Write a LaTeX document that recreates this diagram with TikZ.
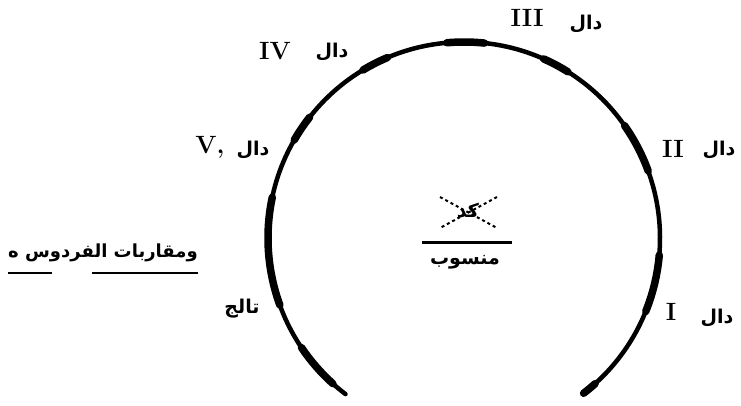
\documentclass[tikz,border=0pt]{standalone}
\usepackage{fontspec}
\newfontfamily\arabicfont[Script=Arabic]{DejaVu Sans}
\TeXXeTstate=1
\tikzset{
  numlbl/.style={inner sep=0pt, font=\bfseries\fontsize{25}{25}\selectfont},
  arlbl/.style={inner sep=0pt, font=\arabicfont\bfseries\fontsize{19}{19}\selectfont},
  ring/.style={line width=4.5pt, line cap=round},
  blob/.style={line width=7.5pt, line cap=round},
  uline/.style={line width=2pt}
}
\begin{document}
\begin{tikzpicture}[x=1pt,y=1pt]
\useasboundingbox (0,0) rectangle (741,405);
\coordinate (c) at (464,167);
% main ring
\draw[ring] (c) ++(232.8:196pt) arc[start angle=232.8, end angle=-52.4, radius=196pt];
% thicker segments
\foreach \a/\b in {228/214, 200/168, 150/142, 121/113, 95/84, 66/58, 35/20, 355/338, 312/307.6}{
  \draw[blob] (c) ++(\a:196pt) arc[start angle=\a, end angle=\b, radius=196pt];
}
% labels
\node[numlbl] (n3) at (527,387) {III};
\node[arlbl] (d3) at (586,381) {\beginR دال\endR};
\node[numlbl] (n4) at (275,354) {IV};
\node[arlbl] (d4) at (332,353) {\beginR دال\endR};
\node[numlbl] (n5) at (210,258) {V,};
\node[arlbl] (d5) at (253,255) {\beginR دال\endR};
\node[numlbl] (n2) at (673,256) {II};
\node[arlbl] (d2) at (719,255) {\beginR دال\endR};
\node[numlbl] (n1) at (671,93) {I};
\node[arlbl] (d1) at (717,87) {\beginR دال\endR};
\node[arlbl] (bl) at (242,96) {\beginR تالج\endR};
% left label
\node[arlbl, font=\arabicfont\bfseries\fontsize{18}{18}\selectfont] (lft) at (103,152) {\beginR ومقاربات الفردوس ه\endR};
\coordinate (u1a) at (8,132); \coordinate (u1b) at (52,132);
\coordinate (u2a) at (92,132); \coordinate (u2b) at (198,132);
\draw[uline] (u1a) -- (u1b);
\draw[uline] (u2a) -- (u2b);
% centre fraction
\node[arlbl] (top) at (468,194) {\beginR كد\endR};
\coordinate (x1) at (440,208); \coordinate (x2) at (497,177);
\coordinate (x3) at (497,208); \coordinate (x4) at (440,177);
\draw[line width=2pt, dashed] (x1) -- (x2);
\draw[line width=2pt, dashed] (x3) -- (x4);
\coordinate (fl) at (422,163); \coordinate (fr) at (512,163);
\draw[line width=3pt] (fl) -- (fr);
\node[arlbl] (bot) at (465,143) {\beginR منسوب\endR};
\end{tikzpicture}
\end{document}
